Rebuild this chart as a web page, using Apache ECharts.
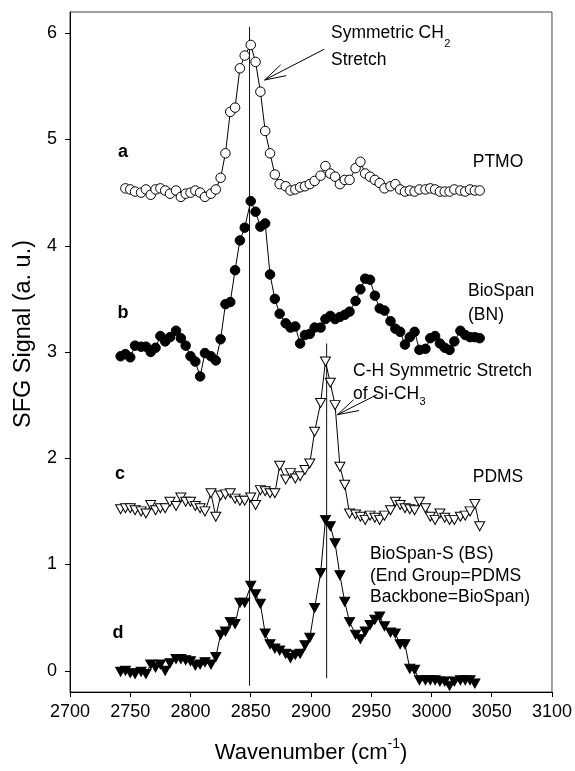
<!DOCTYPE html>
<html>
<head>
<meta charset="utf-8">
<script src="https://cdn.jsdelivr.net/npm/echarts@6/dist/echarts.min.js"></script>
<style>
  html, body { margin: 0; padding: 0; background: #fff; }
  #chart { width: 575px; height: 771px; }
</style>
</head>
<body>
<div id="chart"></div>
<script>
// Wavenumber grid shared by the four SFG spectra (cm-1)
const wavenumber = [
  2742, 2746, 2750, 2754, 2759, 2763, 2767, 2771, 2775, 2779,
  2783, 2788, 2792, 2796, 2800, 2804, 2808, 2812, 2817, 2821,
  2825, 2829, 2833, 2837, 2841, 2845, 2850, 2854, 2858, 2862,
  2866, 2870, 2874, 2879, 2883, 2887, 2891, 2895, 2899, 2903,
  2908, 2912, 2916, 2920, 2924, 2928, 2932, 2937, 2941, 2945,
  2949, 2953, 2957, 2961, 2966, 2970, 2974, 2978, 2982, 2986,
  2990, 2995, 2999, 3003, 3007, 3011, 3015, 3019, 3024, 3028,
  3032, 3036, 3040
];

// (a) PTMO, offset spectrum
const ptmo = [
  null, 4.54, 4.53, 4.51, 4.50, 4.53, 4.48, 4.53, 4.54, 4.52,
  4.49, 4.52, 4.46, 4.49, 4.50, 4.52, 4.50, 4.46, 4.49, 4.53,
  4.64, 4.87, 5.26, 5.30, 5.67, 5.79, 5.89, 5.73, 5.45, 5.08,
  4.87, 4.67, 4.58, 4.56, 4.52, 4.53, 4.55, 4.56, 4.58, 4.61,
  4.66, 4.75, 4.68, 4.65, 4.58, 4.62, 4.62, 4.73, 4.79, 4.68,
  4.65, 4.62, 4.59, 4.54, 4.56, 4.58, 4.53, 4.51, 4.52, 4.51,
  4.53, 4.53, 4.54, 4.53, 4.51, 4.51, 4.51, 4.53, 4.52, 4.51,
  4.53, 4.52, 4.52
];

// (b) BioSpan (BN)
const bioSpan = [
  2.96, 2.98, 2.95, 3.06, 3.05, 3.05, 3.00, 3.04, 3.15, 3.10,
  3.14, 3.20, 3.13, 3.06, 2.96, 2.91, 2.77, 2.99, 2.96, 2.92,
  3.12, 3.45, 3.47, 3.77, 4.05, 4.17, 4.42, 4.32, 4.18, 4.21,
  3.73, 3.50, 3.36, 3.27, 3.23, 3.24, 3.08, 3.16, 3.17, 3.23,
  3.23, 3.31, 3.34, 3.31, 3.33, 3.35, 3.38, 3.48, 3.59, 3.69,
  3.68, 3.53, 3.41, 3.39, 3.29, 3.22, 3.19, 3.07, 3.14, 3.19,
  3.02, 3.03, 3.13, 3.15, 3.08, 3.04, 3.02, 3.10, 3.20, 3.16,
  3.14, 3.14, 3.13
];

// (c) PDMS
const pdms = [
  1.52, 1.53, 1.53, 1.51, 1.50, 1.48, 1.56, 1.51, 1.53, 1.53,
  1.59, 1.55, 1.63, 1.59, 1.59, 1.55, 1.53, 1.50, 1.67, 1.45,
  1.65, 1.66, 1.67, 1.62, 1.60, 1.60, 1.63, 1.56, 1.70, 1.69,
  1.67, 1.67, 1.93, 1.80, 1.86, 1.81, 1.83, 1.89, 1.95, 2.25,
  2.52, 2.91, 2.71, 2.50, 1.92, 1.75, 1.48, 1.47, 1.45, 1.42,
  1.46, 1.44, 1.42, 1.46, 1.51, 1.59, 1.56, 1.53, 1.52, 1.51,
  1.59, 1.53, 1.45, 1.42, 1.48, 1.44, 1.42, 1.42, 1.45, 1.46,
  1.50, 1.57, 1.36
];

// (d) BioSpan-S (BS)
const bioSpanS = [
  -0.01, 0.00, -0.02, -0.03, -0.01, -0.03, 0.06, 0.03, 0.06, 0.00,
  0.07, 0.11, 0.11, 0.10, 0.09, 0.05, 0.06, 0.08, 0.06, 0.13,
  0.34, 0.37, 0.46, 0.44, 0.64, 0.64, 0.80, 0.72, 0.63, 0.35,
  0.25, 0.21, 0.19, 0.16, 0.12, 0.15, 0.16, 0.24, 0.31, 0.59,
  0.92, 1.42, 1.36, 1.20, 0.90, 0.65, 0.46, 0.34, 0.30, 0.37,
  0.43, 0.48, 0.51, 0.42, 0.36, 0.35, 0.25, 0.25, 0.02, 0.01,
  -0.09, -0.09, -0.09, -0.09, -0.10, -0.10, -0.14, -0.10, -0.09, -0.09,
  -0.09, -0.12, null
];

// Axis ticks
const yTickValues = [0, 1, 2, 3, 4, 5, 6];

// Peak marker lines: wavenumber and vertical extent (signal units)
const peakLines = [
  { wn: 2849, low: -0.14, high: 6.06 },
  { wn: 2913, low: -0.07, high: 3.08 }
];

// Annotation arrows: [tail, tip] in (wavenumber, signal)
const ch2Arrow = [[2911, 5.85], [2861.5, 5.56]];
const siCh3Arrow = [[2955, 2.60], [2922, 2.41]];

const FONT = '"Liberation Sans", Arial, Helvetica, sans-serif';

function pairs(values) {
  const out = [];
  wavenumber.forEach((w, i) => {
    if (values[i] !== null && values[i] !== undefined) out.push([w, values[i]]);
  });
  return out;
}

const triDown = 'path://M0,0L10,0L5,9Z';

function spectrum(name, values, symbol, size, filled) {
  return {
    name: name,
    type: 'line',
    data: pairs(values),
    symbol: symbol,
    symbolSize: size,
    showSymbol: true,
    showAllSymbol: true,
    animation: false,
    silent: true,
    z: 3,
    lineStyle: { color: '#000', width: 1 },
    itemStyle: {
      color: filled ? '#000' : '#fff',
      borderColor: '#000',
      borderWidth: 1
    }
  };
}

const chart = echarts.init(document.getElementById('chart'), null, { renderer: 'canvas' });

const series = [];
peakLines.forEach((p, i) => {
  series.push({
    name: 'peak' + i,
    type: 'line',
    data: [[p.wn, p.low], [p.wn, p.high]],
    symbol: 'none',
    silent: true,
    animation: false,
    z: 2,
    lineStyle: { color: '#111', width: 1 }
  });
});
series.push(spectrum('PTMO', ptmo, 'circle', 9.5, false));
series.push(spectrum('BioSpan', bioSpan, 'circle', 9.5, true));
series.push(spectrum('PDMS', pdms, triDown, [10, 9], false));
series.push(spectrum('BioSpan-S', bioSpanS, triDown, [10, 9], true));

chart.setOption({
  animation: false,
  backgroundColor: '#fff',
  grid: {
    left: 70, right: 23, top: 12, bottom: 79,
    show: true, borderColor: '#444', borderWidth: 1, backgroundColor: 'transparent'
  },
  xAxis: {
    type: 'value',
    min: 2700, max: 3100, interval: 50,
    axisLine: { show: true, onZero: false, lineStyle: { color: '#000', width: 1 } },
    axisTick: { show: true, inside: false, length: 5, lineStyle: { color: '#000' } },
    axisLabel: {
      fontSize: 18, color: '#000', margin: 11, fontFamily: FONT,
      formatter: v => String(Math.round(v))
    },
    splitLine: { show: false }
  },
  yAxis: {
    type: 'value',
    min: -0.2, max: 6.2,
    axisLine: { show: true, onZero: false, lineStyle: { color: '#000', width: 1 } },
    axisTick: { show: true, inside: false, length: 5, customValues: yTickValues, lineStyle: { color: '#000' } },
    axisLabel: {
      fontSize: 18, color: '#000', margin: 13, fontFamily: FONT,
      customValues: yTickValues,
      formatter: v => String(Math.round(v))
    },
    splitLine: { show: false }
  },
  series: series
});

// Text measuring for sub/superscript placement
const measureCtx = document.createElement('canvas').getContext('2d');
function textWidth(str, size, weight) {
  measureCtx.font = (weight || 'normal') + ' ' + size + 'px ' + FONT;
  return measureCtx.measureText(str).width;
}

function txt(str, x, y, size, opts) {
  opts = opts || {};
  return {
    type: 'text',
    x: x, y: y,
    rotation: opts.rotation || 0,
    silent: true,
    z: 10,
    style: {
      text: str,
      font: (opts.weight || 'normal') + ' ' + size + 'px ' + FONT,
      fill: '#000',
      textAlign: opts.align || 'left',
      textVerticalAlign: 'middle'
    }
  };
}

function arrow(spec) {
  const tail = chart.convertToPixel({ gridIndex: 0 }, spec[0]);
  const tip = chart.convertToPixel({ gridIndex: 0 }, spec[1]);
  const dx = tail[0] - tip[0], dy = tail[1] - tip[1];
  const len = Math.hypot(dx, dy);
  const ux = dx / len, uy = dy / len;
  const ang = 16 * Math.PI / 180, barb = 22;
  const rot = s => [
    tip[0] + barb * (ux * Math.cos(s * ang) - uy * Math.sin(s * ang)),
    tip[1] + barb * (ux * Math.sin(s * ang) + uy * Math.cos(s * ang))
  ];
  const style = { stroke: '#000', lineWidth: 1, fill: null };
  return [
    { type: 'line', silent: true, z: 9, shape: { x1: tail[0], y1: tail[1], x2: tip[0], y2: tip[1] }, style: style },
    { type: 'polyline', silent: true, z: 9, shape: { points: [rot(1), tip, rot(-1)] }, style: style }
  ];
}

const ann = 17.5;
const els = [];

// Axis titles
const xt1 = 'Wavenumber (cm', xt2 = '-1', xt3 = ')';
const xs = 22, xsup = 14;
const xw = textWidth(xt1, xs) + textWidth(xt2, xsup) + textWidth(xt3, xs);
let xx = 311 - xw / 2;
els.push(txt(xt1, xx, 753, xs));
xx += textWidth(xt1, xs);
els.push(txt(xt2, xx, 744, xsup));
xx += textWidth(xt2, xsup);
els.push(txt(xt3, xx, 753, xs));

els.push(txt('SFG Signal (a. u.)', 24, 334, 23.5, { rotation: Math.PI / 2, align: 'center' }));

// Spectrum letters
els.push(txt('a', 123, 152, 18, { weight: 'bold', align: 'center' }));
els.push(txt('b', 123, 313, 18, { weight: 'bold', align: 'center' }));
els.push(txt('c', 120, 474, 18, { weight: 'bold', align: 'center' }));
els.push(txt('d', 118, 633, 18, { weight: 'bold', align: 'center' }));

// Sample names
els.push(txt('PTMO', 498, 162, ann, { align: 'center' }));
els.push(txt('BioSpan', 468, 291, ann));
els.push(txt('(BN)', 468, 315, ann));
els.push(txt('PDMS', 498, 477, ann, { align: 'center' }));
els.push(txt('BioSpan-S (BS)', 370, 554, ann));
els.push(txt('(End Group=PDMS', 370, 576, ann));
els.push(txt('Backbone=BioSpan)', 370, 597, ann));

// Peak assignments
els.push(txt('Symmetric CH', 331, 33, ann));
els.push(txt('2', 331 + textWidth('Symmetric CH', ann) + 0.5, 44, 11));
els.push(txt('Stretch', 331, 60, ann));
els.push(txt('C-H Symmetric Stretch', 353, 371, ann));
els.push(txt('of Si-CH', 353, 394, ann));
els.push(txt('3', 353 + textWidth('of Si-CH', ann) + 0.5, 402, 11));

arrow(ch2Arrow).forEach(e => els.push(e));
arrow(siCh3Arrow).forEach(e => els.push(e));

chart.setOption({ graphic: { elements: els } });
</script>
</body>
</html>
